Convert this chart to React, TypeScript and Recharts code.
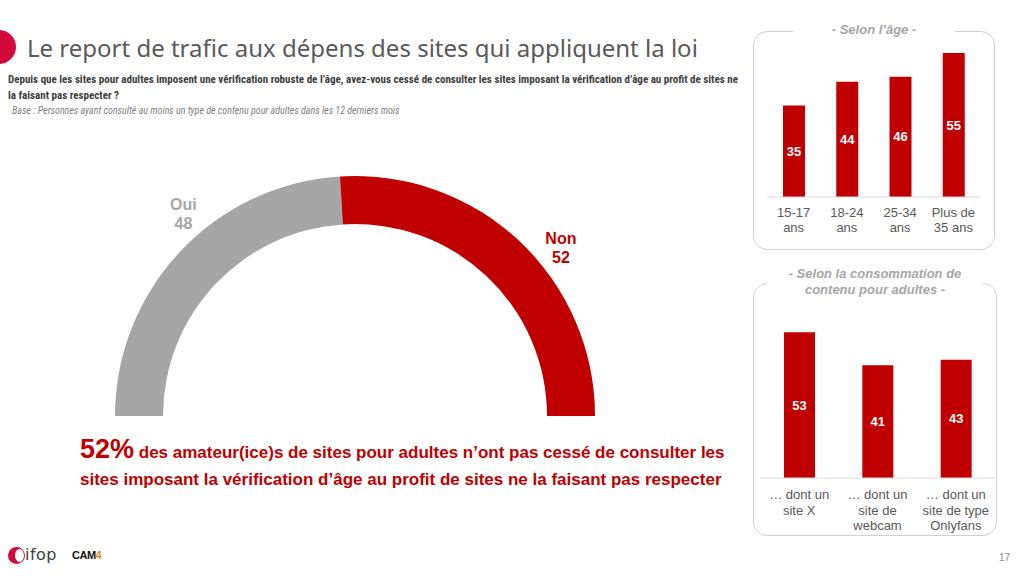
import { PieChart, Pie, Cell, BarChart, Bar, XAxis, YAxis, LabelList } from 'recharts'

const RED = '#c00000'
const GREY = '#a6a6a6'
const TEXT = '#595959'
const SANS = "'Liberation Sans', Arial, sans-serif"
const NARROW = "'Liberation Sans Narrow', 'Arial Narrow', 'Roboto Condensed', 'DejaVu Sans Condensed', sans-serif"

const answerLabels = ['Oui', 'Non']
const answerValues = [48, 52]
const answerColors = [GREY, RED]

const ageCategories = ['15-17\nans', '18-24\nans', '25-34\nans', 'Plus de\n35 ans']
const ageValues = [35, 44, 46, 55]

const usageCategories = ['… dont un\nsite X', '… dont un\nsite de\nwebcam', '… dont un\nsite de type\nOnlyfans']
const usageValues = [53, 41, 43]

const answers = answerLabels.map((name, i) => ({ name, value: answerValues[i], color: answerColors[i] }))
const byAge = ageCategories.map((name, i) => ({ name, value: ageValues[i] }))
const byUsage = usageCategories.map((name, i) => ({ name, value: usageValues[i] }))

const RAD = Math.PI / 180

function GaugeLabel(props: any) {
  const { cx, cy, midAngle, payload } = props
  // labels sit just outside the ring, nudged a bit clockwise
  const a = (midAngle - 7) * RAD
  const r = 268
  const x = cx + r * Math.cos(a)
  const y = cy - r * Math.sin(a)
  return (
    <text x={x} y={y} textAnchor="middle" fill={payload.color} fontSize={16} fontWeight="bold" fontFamily={SANS}>
      <tspan x={x} dy={0}>{payload.name}</tspan>
      <tspan x={x} dy={19}>{payload.value}</tspan>
    </text>
  )
}

function makeTick(first: number, step: number) {
  return function Tick({ x, y, payload }: any) {
    const lines = String(payload.value).split('\n')
    return (
      <text x={x} y={y} textAnchor="middle" fill={TEXT} fontSize={13} fontFamily={SANS}>
        {lines.map((l, i) => (
          <tspan key={i} x={x} dy={i === 0 ? first : step}>{l}</tspan>
        ))}
      </text>
    )
  }
}

function Panel({ left, top, width, height, title, titleTop, gap }: any) {
  return (
    <>
      <div style={{ position: 'absolute', left, top, width, height, border: '1.5px solid #d0d0d0', borderRadius: 14, boxSizing: 'border-box' }} />
      <div style={{ position: 'absolute', left: left + gap, top: titleTop, width: width - 2 * gap, background: '#fff', textAlign: 'center', color: GREY, fontStyle: 'italic', fontWeight: 'bold', fontSize: 13, lineHeight: '16px', fontFamily: SANS, whiteSpace: 'pre' }}>
        {title}
      </div>
    </>
  )
}

export default function App() {
  return (
    <div style={{ position: 'absolute', left: 0, top: 0, width: 1024, height: 576, background: '#fff', overflow: 'hidden', fontFamily: SANS }}>
      <div style={{ position: 'absolute', left: -18, top: 30, width: 34, height: 34, borderRadius: '50%', background: '#d20a3c' }} />
      <div style={{ position: 'absolute', left: 27, top: 31, fontSize: 24, color: TEXT, fontFamily: "'Noto Sans', sans-serif", whiteSpace: 'nowrap' }}>
        Le report de trafic aux dépens des sites qui appliquent la loi
      </div>
      <div style={{ position: 'absolute', left: 8, top: 72, width: 740, fontSize: 11, lineHeight: '16px', fontWeight: 'bold', color: '#404040', fontFamily: NARROW }}>
        Depuis que les sites pour adultes imposent une vérification robuste de l’âge, avez-vous cessé de consulter les sites imposant la vérification d’âge au profit de sites ne la faisant pas respecter ?
      </div>
      <div style={{ position: 'absolute', left: 12, top: 105, fontSize: 10, fontStyle: 'italic', color: '#7f7f7f', fontFamily: NARROW }}>
        Base : Personnes ayant consulté au moins un type de contenu pour adultes dans les 12 derniers mois
      </div>

      <div style={{ position: 'absolute', left: 95, top: 160 }}>
        <PieChart width={520} height={270} margin={{ top: 0, right: 0, bottom: 0, left: 0 }}>
          <Pie
            data={answers}
            dataKey="value"
            nameKey="name"
            cx={260}
            cy={256}
            startAngle={180}
            endAngle={0}
            innerRadius={192}
            outerRadius={240}
            stroke="none"
            label={GaugeLabel}
            labelLine={false}
            isAnimationActive={false}
          >
            {answers.map((d) => (
              <Cell key={d.name} fill={d.color} />
            ))}
          </Pie>
        </PieChart>
      </div>

      <svg style={{ position: 'absolute', left: 0, top: 430 }} width={760} height={70}>
        <text x={80} y={28} fill={RED} fontWeight="bold" fontFamily={SANS}>
          <tspan fontSize={27}>52%</tspan>
          <tspan fontSize={17}> des amateur(ice)s de sites pour adultes n’ont pas cessé de consulter les</tspan>
        </text>
        <text x={80} y={55} fill={RED} fontWeight="bold" fontFamily={SANS} fontSize={17}>
          sites imposant la vérification d’âge au profit de sites ne la faisant pas respecter
        </text>
      </svg>

      <Panel left={753} top={31} width={242} height={219} title="- Selon l’âge -" titleTop={22} gap={40} />
      <div style={{ position: 'absolute', left: 753, top: 28 }}>
        <BarChart width={242} height={222} data={byAge} margin={{ top: 12, right: 15, left: 14, bottom: 0 }}>
          <XAxis
            dataKey="name"
            height={53}
            axisLine={{ stroke: '#d9d9d9' }}
            tickLine={false}
            tickSize={0}
            tickMargin={0}
            interval={0}
            tick={makeTick(20, 15)}
          />
          <YAxis hide domain={[0, 60]} />
          <Bar dataKey="value" fill={RED} barSize={22} isAnimationActive={false}>
            <LabelList dataKey="value" position="center" fill="#fff" fontSize={13} fontWeight="bold" fontFamily={SANS} />
          </Bar>
        </BarChart>
      </div>

      <Panel left={753} top={283} width={244} height={253} title={'- Selon la consommation de\ncontenu pour adultes -'} titleTop={266} gap={14} />
      <div style={{ position: 'absolute', left: 753, top: 283 }}>
        <BarChart width={244} height={253} data={byUsage} margin={{ top: 30, right: 2, left: 7, bottom: 0 }}>
          <XAxis
            dataKey="name"
            height={58}
            axisLine={{ stroke: '#d9d9d9' }}
            tickLine={false}
            tickSize={0}
            tickMargin={0}
            interval={0}
            tick={makeTick(21, 15.5)}
          />
          <YAxis hide domain={[0, 60]} />
          <Bar dataKey="value" fill={RED} barSize={31} isAnimationActive={false}>
            <LabelList dataKey="value" position="center" fill="#fff" fontSize={13} fontWeight="bold" fontFamily={SANS} />
          </Bar>
        </BarChart>
      </div>

      <div style={{ position: 'absolute', left: 8, top: 547, width: 17, height: 17, borderRadius: '50%', background: '#d20a3c' }} />
      <div style={{ position: 'absolute', left: 15, top: 549, width: 9, height: 13, borderRadius: '50%', background: '#fff' }} />
      <div style={{ position: 'absolute', left: 25, top: 545, fontSize: 16, color: '#404040', fontFamily: "'DejaVu Sans', sans-serif", letterSpacing: 0.5 }}>ifop</div>
      <div style={{ position: 'absolute', left: 72, top: 549, fontSize: 11, fontWeight: 900, color: '#111', fontFamily: SANS, letterSpacing: -0.5 }}>
        CAM<span style={{ color: '#f07f1a' }}>4</span>
      </div>
      <div style={{ position: 'absolute', left: 999, top: 552, fontSize: 10, color: '#8c8c8c', fontFamily: SANS }}>17</div>
    </div>
  )
}
